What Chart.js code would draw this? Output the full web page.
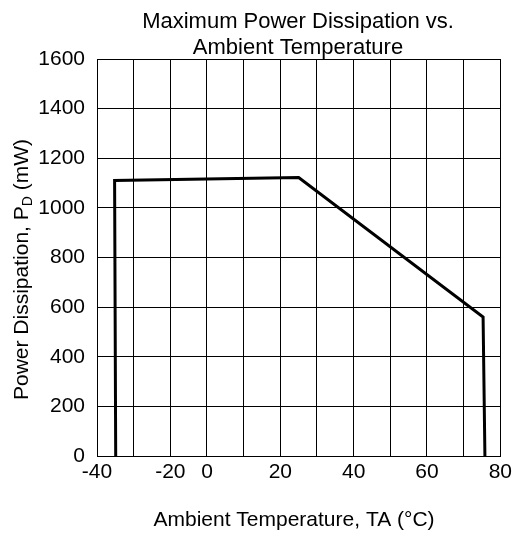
<!DOCTYPE html>
<html>
<head>
<meta charset="utf-8">
<script src="https://cdn.jsdelivr.net/npm/chart.js@4.4.1/dist/chart.umd.min.js"></script>
<style>
  html, body { margin: 0; padding: 0; background: #fff; }
</style>
</head>
<body>
<canvas id="myChart" width="516" height="536"></canvas>
<script>
// curve points (x in axis units, y in mW)
const tempC = [-24.9, -25.2, 25, 75.3, 75.8];
const powerMW = [0, 1110, 1122, 560, 0];

// the axis runs in steps of 10 but only some gridlines carry a label
const xTickLabels = { '-30': '-40', '-10': '-20', '0': '0', '20': '20', '40': '40', '60': '60', '80': '80' };
const yTicks = [0, 200, 400, 600, 800, 1000, 1200, 1400, 1600];

const titleLines = ['Maximum Power Dissipation vs.', 'Ambient Temperature'];
const xTitle = 'Ambient Temperature, TA (°C)';

const FONT = "'Liberation Sans', Arial, sans-serif";

// titles drawn by hand so the y title can carry its subscript D
const textPlugin = {
    id: 'texts',
    afterDraw(chart) {
        const ctx = chart.ctx;
        const area = chart.chartArea;
        ctx.save();
        ctx.fillStyle = '#000';
        ctx.textBaseline = 'alphabetic';

        ctx.textAlign = 'center';
        ctx.font = '22px ' + FONT;
        ctx.fillText(titleLines[0], 298, 28);
        ctx.fillText(titleLines[1], 298, 54);

        ctx.font = '21px ' + FONT;
        ctx.fillText(xTitle, 294, 526);

        ctx.textAlign = 'left';
        ctx.translate(28, (area.top + area.bottom) / 2 + 12);
        ctx.rotate(-Math.PI / 2);
        const big = '21px ' + FONT;
        const small = '14px ' + FONT;
        const parts = [['Power Dissipation, P', big, 0], ['D', small, 4], [' (mW)', big, 0]];
        let total = 0;
        parts.forEach(p => { ctx.font = p[1]; total += ctx.measureText(p[0]).width; });
        let x = -total / 2;
        parts.forEach(p => {
            ctx.font = p[1];
            ctx.fillText(p[0], x, p[2]);
            x += ctx.measureText(p[0]).width;
        });
        ctx.restore();
    }
};

const ctx = document.getElementById('myChart').getContext('2d');
new Chart(ctx, {
    type: 'scatter',
    data: {
        datasets: [{
            data: tempC.map((t, i) => ({ x: t, y: powerMW[i] })),
            showLine: true,
            borderColor: '#000',
            borderWidth: 3,
            pointRadius: 0,
            fill: false,
            tension: 0
        }]
    },
    options: {
        responsive: false,
        animation: false,
        layout: { padding: { left: 0, right: 14, top: 59, bottom: 0 } },
        plugins: {
            legend: { display: false },
            tooltip: { enabled: false },
            title: { display: false }
        },
        scales: {
            x: {
                type: 'linear',
                min: -30,
                max: 80,
                grid: { color: '#000', lineWidth: 1, drawTicks: false },
                border: { color: '#000', width: 1 },
                ticks: {
                    stepSize: 10,
                    autoSkip: false,
                    maxRotation: 0,
                    padding: 4,
                    color: '#000',
                    font: { family: FONT, size: 21 },
                    callback: v => xTickLabels[String(v)] ?? ''
                },
                afterFit: s => { s.height = 80; }
            },
            y: {
                min: 0,
                max: 1600,
                grid: { color: '#000', lineWidth: 1, drawTicks: false },
                border: { color: '#000', width: 1 },
                afterBuildTicks: s => { s.ticks = yTicks.map(v => ({ value: v })); },
                ticks: {
                    padding: 12,
                    color: '#000',
                    font: { family: FONT, size: 21 },
                    callback: v => String(v)
                },
                afterFit: s => { s.width = 97; }
            }
        }
    },
    plugins: [textPlugin]
});
</script>
</body>
</html>
